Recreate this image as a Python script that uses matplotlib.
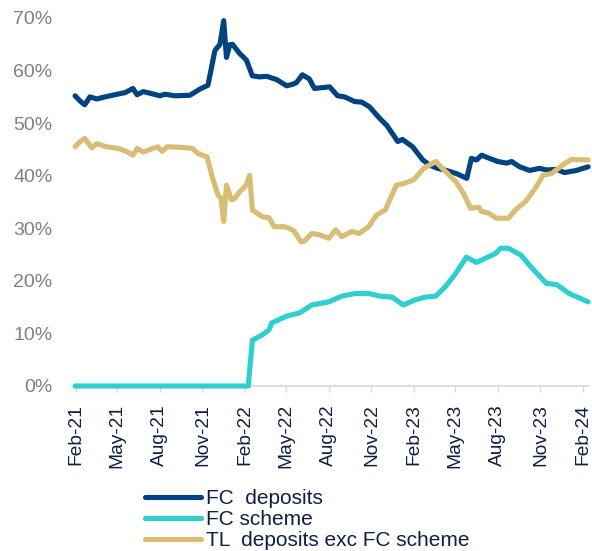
"""
Share of deposits: FC deposits, FC-protected scheme and TL deposits, Feb-21 to Feb-24.
Saves out.png.
"""
import matplotlib
matplotlib.use("Agg")
import matplotlib.pyplot as plt
import matplotlib.dates as mdates
import matplotlib.ticker as mticker
import pandas as pd

plt.rcParams["font.family"] = ["Liberation Sans", "DejaVu Sans"]

# FC deposits (% of total)
FC_DATES = [
    "2021-01-30", "2021-02-10", "2021-02-20", "2021-03-03", "2021-03-18", "2021-04-05",
    "2021-05-01", "2021-05-18", "2021-06-04", "2021-06-13", "2021-06-26", "2021-07-15",
    "2021-08-01", "2021-08-12", "2021-09-03", "2021-10-05", "2021-10-27", "2021-11-13",
    "2021-11-28", "2021-12-09", "2021-12-17", "2021-12-23", "2021-12-30", "2022-01-05",
    "2022-01-20", "2022-02-04", "2022-02-17", "2022-03-04", "2022-03-20", "2022-04-10",
    "2022-05-02", "2022-05-15", "2022-05-23", "2022-06-05", "2022-06-20", "2022-07-01",
    "2022-08-03", "2022-08-20", "2022-09-04", "2022-09-26", "2022-10-11", "2022-10-28",
    "2022-11-19", "2022-12-04", "2022-12-28", "2023-01-07", "2023-01-29", "2023-02-20",
    "2023-03-07", "2023-03-24", "2023-04-12", "2023-05-04", "2023-05-26", "2023-06-05",
    "2023-06-16", "2023-06-27", "2023-07-14", "2023-08-01", "2023-08-20", "2023-08-31",
    "2023-09-17", "2023-10-09", "2023-10-30", "2023-11-14", "2023-12-06", "2023-12-23",
    "2024-01-18", "2024-02-12",
]
FC_DEPOSITS = [
    55.2, 54.2, 53.5, 55.0, 54.6, 55.0,
    55.5, 55.8, 56.6, 55.4, 56.0, 55.6,
    55.2, 55.5, 55.2, 55.3, 56.5, 57.2,
    63.8, 65.0, 69.5, 62.5, 64.9, 65.0,
    63.3, 62.0, 59.0, 58.8, 58.9, 58.3,
    57.1, 57.4, 57.7, 59.2, 58.4, 56.6,
    56.9, 55.2, 55.0, 54.1, 54.0, 53.1,
    50.9, 49.6, 46.5, 46.9, 45.5, 43.0,
    42.0, 41.4, 41.0, 40.4, 39.5, 43.3,
    43.0, 43.9, 43.3, 42.7, 42.4, 42.7,
    41.7, 41.0, 41.4, 41.1, 41.2, 40.6,
    41.0, 41.7,
]

# FC-protected scheme (% of total)
SCHEME_DATES = [
    "2021-01-30", "2022-02-08", "2022-02-17", "2022-03-10", "2022-03-25", "2022-03-31",
    "2022-05-02", "2022-05-30", "2022-06-25", "2022-08-01", "2022-08-29", "2022-09-28",
    "2022-10-26", "2022-11-19", "2022-12-16", "2023-01-09", "2023-02-04", "2023-02-25",
    "2023-03-20", "2023-04-10", "2023-05-02", "2023-05-25", "2023-06-16", "2023-07-05",
    "2023-07-27", "2023-08-07", "2023-08-24", "2023-09-20", "2023-10-11", "2023-11-14",
    "2023-12-06", "2024-01-02", "2024-02-12",
]
FC_SCHEME = [
    0.0, 0.0, 8.7, 9.7, 10.7, 12.0,
    13.3, 13.9, 15.4, 16.0, 17.1, 17.6,
    17.6, 17.1, 16.9, 15.4, 16.4, 16.9,
    17.1, 18.9, 21.4, 24.5, 23.5, 24.3,
    25.2, 26.2, 26.2, 24.9, 22.7, 19.5,
    19.3, 17.6, 16.0,
]

# TL deposits excluding the FC scheme (% of total)
TL_DATES = [
    "2021-01-30", "2021-02-10", "2021-02-20", "2021-03-07", "2021-03-18", "2021-04-08",
    "2021-05-03", "2021-05-22", "2021-06-04", "2021-06-13", "2021-06-26", "2021-07-17",
    "2021-07-28", "2021-08-06", "2021-08-17", "2021-09-14", "2021-10-10", "2021-10-23",
    "2021-11-11", "2021-11-24", "2021-12-05", "2021-12-11", "2021-12-17", "2021-12-23",
    "2022-01-03", "2022-01-09", "2022-01-20", "2022-02-04", "2022-02-11", "2022-02-17",
    "2022-03-10", "2022-03-25", "2022-04-05", "2022-04-27", "2022-05-07", "2022-05-18",
    "2022-06-02", "2022-06-10", "2022-06-25", "2022-07-10", "2022-08-01", "2022-08-16",
    "2022-08-29", "2022-09-20", "2022-10-05", "2022-10-26", "2022-11-12", "2022-12-01",
    "2022-12-25", "2023-01-09", "2023-01-31", "2023-02-22", "2023-03-20", "2023-04-10",
    "2023-05-02", "2023-05-19", "2023-06-03", "2023-06-21", "2023-06-27", "2023-07-12",
    "2023-07-29", "2023-08-24", "2023-09-08", "2023-09-30", "2023-10-21", "2023-11-07",
    "2023-11-25", "2023-12-25", "2024-01-07", "2024-02-12",
]
TL_DEPOSITS = [
    45.5, 46.5, 47.1, 45.3, 46.1, 45.5,
    45.2, 44.6, 43.9, 45.2, 44.5, 45.2,
    45.5, 44.6, 45.5, 45.4, 45.2, 44.2,
    43.6, 39.2, 36.3, 35.8, 31.3, 38.2,
    35.4, 35.6, 36.9, 38.2, 40.1, 33.5,
    32.2, 32.0, 30.3, 30.3, 30.0, 29.5,
    27.4, 27.6, 29.0, 28.8, 28.1, 29.7,
    28.4, 29.4, 29.0, 30.3, 32.5, 33.5,
    38.2, 38.5, 39.2, 41.4, 42.7, 40.8,
    38.9, 36.6, 33.8, 34.0, 33.2, 32.9,
    31.9, 31.9, 33.5, 35.1, 37.6, 40.1,
    40.4, 42.4, 43.1, 43.0,
]

LABELS = ["FC  deposits", "FC scheme", "TL  deposits exc FC scheme"]
COLORS = ["#004381", "#2FCFCF", "#D9BD74"]

TICK_GREY = "#808080"
TEXT_NAVY = "#0E1F45"


def main() -> None:
    fig = plt.figure(figsize=(5.92, 5.51), dpi=100)
    ax = fig.add_axes([74.6 / 592, 1 - 386 / 551, 514.4 / 592, 368 / 551])

    series = [
        (FC_DATES, FC_DEPOSITS),
        (SCHEME_DATES, FC_SCHEME),
        (TL_DATES, TL_DEPOSITS),
    ]
    for (dates, vals), label, color in zip(series, LABELS, COLORS):
        ax.plot(pd.to_datetime(dates), vals, color=color, linewidth=3.7,
                label=label, solid_joinstyle="round", solid_capstyle="round",
                clip_on=False, zorder=3)

    ax.set_xlim(pd.Timestamp("2021-01-29"), pd.Timestamp("2024-02-14"))
    ax.set_ylim(0, 70)

    ax.yaxis.set_major_locator(mticker.MultipleLocator(10))
    ax.yaxis.set_major_formatter(mticker.FuncFormatter(lambda v, _: f"{v:.0f}%"))
    ax.xaxis.set_major_locator(mdates.MonthLocator(bymonth=[2, 5, 8, 11]))
    ax.xaxis.set_major_formatter(mdates.DateFormatter("%b-%y"))

    for side in ["top", "right", "left"]:
        ax.spines[side].set_visible(False)
    ax.spines["bottom"].set_color("#D9D9D9")
    ax.spines["bottom"].set_linewidth(1.2)

    ax.tick_params(axis="y", length=0, pad=16, labelsize=14, labelcolor=TICK_GREY)
    ax.tick_params(axis="x", length=4, width=1, color="#D9D9D9", direction="out",
                   pad=9, labelsize=13.8, labelcolor=TEXT_NAVY, labelrotation=90)
    for lbl in ax.get_xticklabels():
        lbl.set_va("top")

    fig.legend(
        loc="upper left", bbox_to_anchor=(145 / 592, 1 - 489 / 551),
        frameon=False, fontsize=15, labelcolor=TEXT_NAVY,
        handlelength=2.7, handletextpad=0.25, labelspacing=0.1,
        borderpad=0, borderaxespad=0,
    )

    fig.savefig("out.png", dpi=100)
    plt.close(fig)


if __name__ == "__main__":
    main()
